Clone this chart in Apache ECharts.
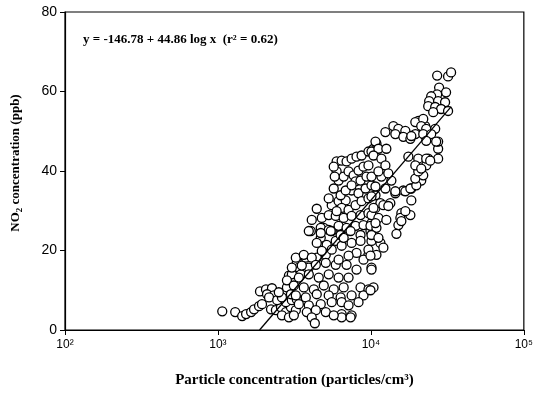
<!DOCTYPE html>
<html>
<head>
<meta charset="utf-8">
<script src="https://cdn.jsdelivr.net/npm/echarts@6/dist/echarts.min.js"></script>
<style>
  html, body { margin: 0; padding: 0; background: #fff; }
  #chart { width: 536px; height: 393px; }
</style>
</head>
<body>
<div id="chart"></div>
<script>
// Particle number concentration (particles/cm3) for each observation
const particles = [
  1067, 1297, 1440, 1528, 1648, 1722, 1857, 1941,
  1884, 2061, 2255, 2094, 2323, 2158, 2911, 3135, 3280, 2825,
  2223, 2393, 2582, 2780, 3000, 3230, 2620, 2911, 3135, 2780, 3042, 3000, 3280, 2440, 2620, 2500,
  4105, 4047, 4920, 4700, 5546, 5140, 5890, 4426, 5070, 3752, 3380, 3927, 3484, 3042, 2825, 4426,
  5970, 6440, 6935, 7480, 8055, 8690, 9640, 10400, 10870,
  5970, 6150, 6636, 7145, 7705, 8300, 8950, 7940, 8555, 9355,
  7480, 8300, 9225, 10090,
  5546, 6150, 6840, 6440, 7145, 7940, 8690, 9640, 10715,
  4775, 5300, 5890, 6636, 7480, 8555, 9640, 10715,
  4700, 5300, 6150, 6935, 7940, 8950, 10090,
  5970, 6340, 6840, 7480, 10090, 5715, 5800, 5715, 5300,
  3927, 4700, 5460, 6340, 7365, 8555, 9935,
  3230, 3641, 4105, 4775, 5546, 6440, 7480, 8555, 9640, 10090,
  3042, 3533, 4365, 5070, 5890, 6935, 8055,
  3380, 3927, 4562, 5300, 6150, 7145,
  3135, 3641, 4236, 4920, 5715, 6636, 8555, 9640,
  3230, 3752, 4426, 5300, 6340, 7480, 8950,
  3380, 3927, 4700, 5546, 6440, 7145, 8300,
  3811, 4365, 5070, 6440, 7480, 4105, 4300, 6440, 7365, 5715,
  8055, 8950, 7145, 6150, 4426, 6636,
  10090, 11710, 13610, 10715, 12440, 14450, 10090, 11540, 13400,
  10090, 11200, 12620, 9935, 10870, 10090, 11540, 9640,
  18380, 21340, 18380, 15820, 18120, 15590, 15130, 14690,
  16300, 14450, 12070, 13000, 10400, 10715, 10090, 11200, 12070,
  10870, 9935, 10090, 10400, 9935,
  15820, 16800, 16800, 18120, 19810, 19520, 21990, 20410, 23000,
  23700, 27520, 27520, 27520, 23700, 22660,
  27120, 31960, 33440, 27930, 31010, 27120, 24790, 24050, 27520, 30550,
  23700, 26330, 28780, 31960, 25550,
  20410, 19520, 21990, 21340, 23000, 26330, 19520, 21990, 24790, 23000, 26720,
  12440, 14030, 15130, 16800, 14450, 16300, 18120, 18380,
  17580, 20410, 23000, 19520, 21340, 24420,
  10715, 11200, 10400, 11710, 12620, 9640, 12440, 11200, 13000
];

// NO2 concentration (ppb) paired with the particle values above
const no2 = [
  4.7, 4.5, 3.5, 4.0, 4.5, 5.2, 6.0, 6.5,
  9.7, 10.2, 10.5, 9.0, 8.7, 8.2, 13.7, 13.2, 17.0, 10.7,
  5.2, 5.0, 5.7, 4.5, 5.7, 5.0, 3.7, 3.2, 3.7, 7.0, 7.5, 9.0, 7.7, 7.5, 8.2, 9.5,
  27.7, 24.9, 25.7, 23.2, 24.9, 21.4, 22.4, 18.2, 18.9, 18.2, 15.7, 15.7, 14.0, 14.0, 12.5, 30.5,
  42.4, 42.6, 42.4, 43.1, 43.6, 43.9, 44.9, 45.6, 46.9,
  39.9, 37.6, 38.6, 39.9, 38.9, 40.1, 41.1, 37.4, 37.6, 38.6,
  35.1, 34.4, 35.6, 36.4,
  31.4, 32.4, 32.6, 30.7, 30.2, 31.4, 32.4, 33.1, 33.9,
  28.2, 28.9, 28.7, 28.2, 28.7, 28.9, 29.4, 30.7,
  25.7, 25.2, 26.2, 25.7, 26.2, 26.4, 26.9,
  29.9, 33.9, 35.1, 36.4, 44.9, 41.1, 38.6, 35.6, 33.1,
  24.9, 24.4, 24.9, 23.9, 24.9, 23.9, 24.9,
  18.2, 18.9, 18.2, 19.9, 20.2, 21.2, 21.9, 22.4, 18.9, 15.7,
  15.7, 16.2, 16.4, 16.9, 16.4, 16.4, 15.2,
  13.2, 14.0, 13.2, 14.0, 13.2, 13.2,
  11.2, 10.7, 10.2, 11.2, 10.2, 10.7, 10.7, 10.2,
  8.7, 8.2, 9.0, 8.7, 8.2, 8.7, 8.7,
  6.5, 6.2, 6.5, 7.0, 7.0, 6.2, 7.0,
  4.5, 5.0, 4.5, 4.0, 3.7, 3.2, 1.7, 3.2, 3.2, 3.7,
  19.4, 17.7, 18.7, 17.7, 21.9, 23.2,
  38.6, 38.6, 37.6, 36.1, 35.6, 34.4, 33.6, 31.9, 31.9,
  28.9, 28.2, 27.7, 26.2, 25.7, 22.4, 21.9, 20.2,
  35.6, 37.6, 32.6, 29.4, 28.9, 28.2, 26.4, 24.2,
  35.1, 34.9, 31.4, 31.2, 30.7, 26.9, 23.9, 23.2, 20.7,
  18.9, 18.7, 15.2, 10.7, 10.0,
  27.4, 29.9, 34.9, 35.6, 36.4, 38.1, 38.9, 39.9, 41.4,
  43.1, 43.1, 45.6, 47.4, 49.8, 51.3,
  64.0, 63.8, 64.8, 61.0, 59.8, 59.3, 58.8, 57.6, 57.6, 57.3,
  56.3, 56.1, 55.6, 55.1, 54.8,
  52.6, 52.3, 53.1, 51.3, 50.6, 50.6, 49.3, 49.3, 49.3, 47.6, 47.4,
  49.8, 51.3, 50.6, 50.1, 49.3, 48.6, 48.1, 48.8,
  43.6, 43.1, 43.1, 41.4, 40.6, 42.6,
  47.4, 45.6, 43.9, 43.1, 45.6, 41.4, 41.4, 39.9, 39.4
];

// Log-linear fit: y = a + b log10(x), drawn across the range of the data
const fitIntercept = -146.78;
const fitSlope = 44.86;
const fitRange = [1871, 33500];

// Axis tick labels
const xTickLabels = { 100: '10²', 1000: '10³', 10000: '10⁴', 100000: '10⁵' };

const points = particles.map((p, i) => [p, no2[i]]);
const fitLine = fitRange.map(x => [x, fitIntercept + fitSlope * Math.log10(x)]);

const serif = '"Liberation Serif", "Times New Roman", serif';
const sans = '"Liberation Sans", Arial, sans-serif';

const chart = echarts.init(document.getElementById('chart'), null, { renderer: 'canvas' });
chart.setOption({
  backgroundColor: '#ffffff',
  animation: false,
  grid: {
    left: 65, right: 10, top: 12, bottom: 60,
    show: true, borderColor: '#000', borderWidth: 1.2, backgroundColor: 'transparent'
  },
  xAxis: {
    type: 'log',
    logBase: 10,
    min: 100,
    max: 100000,
    name: 'Particle concentration (particles/cm³)',
    nameLocation: 'middle',
    nameGap: 43,
    nameTextStyle: { fontFamily: serif, fontWeight: 'bold', fontSize: 15, color: '#000' },
    axisLine: { lineStyle: { color: '#000', width: 1.2 } },
    axisTick: { show: true, inside: false, length: 5, lineStyle: { color: '#000' } },
    minorTick: { show: false },
    splitLine: { show: false },
    axisLabel: {
      color: '#000', fontFamily: sans, fontSize: 12, margin: 9,
      formatter: v => xTickLabels[Math.round(v)] || ''
    }
  },
  yAxis: {
    type: 'value',
    min: 0,
    max: 80,
    interval: 20,
    axisLine: { show: true, lineStyle: { color: '#000', width: 1.2 } },
    axisTick: { show: true, inside: false, length: 5, lineStyle: { color: '#000' } },
    splitLine: { show: false },
    axisLabel: { color: '#000', fontFamily: sans, fontSize: 14, margin: 8 }
  },
  graphic: [
    {
      // vertical axis title with subscript
      type: 'text',
      x: 16,
      y: 163,
      rotation: Math.PI / 2,
      style: {
        text: '{a|NO}{s|2}{a| concentration (ppb)}',
        align: 'center',
        verticalAlign: 'middle',
        fill: '#000',
        rich: {
          a: { fontFamily: serif, fontWeight: 'bold', fontSize: 13, fill: '#000' },
          s: { fontFamily: serif, fontWeight: 'bold', fontSize: 9, fill: '#000', padding: [7, 0, 0, 0] }
        }
      }
    },
    {
      type: 'text',
      left: 83,
      top: 33,
      style: {
        text: 'y = -146.78 + 44.86 log x  (r² = 0.62)',
        font: 'bold 13px ' + serif,
        fill: '#000'
      }
    }
  ],
  series: [
    {
      type: 'scatter',
      data: points,
      symbol: 'circle',
      symbolSize: 9,
      itemStyle: { color: '#fff', borderColor: '#000', borderWidth: 1.3, opacity: 1 },
      z: 2
    },
    {
      type: 'line',
      data: fitLine,
      symbol: 'none',
      lineStyle: { color: '#000', width: 1.3 },
      z: 3
    }
  ]
});
</script>
</body>
</html>
